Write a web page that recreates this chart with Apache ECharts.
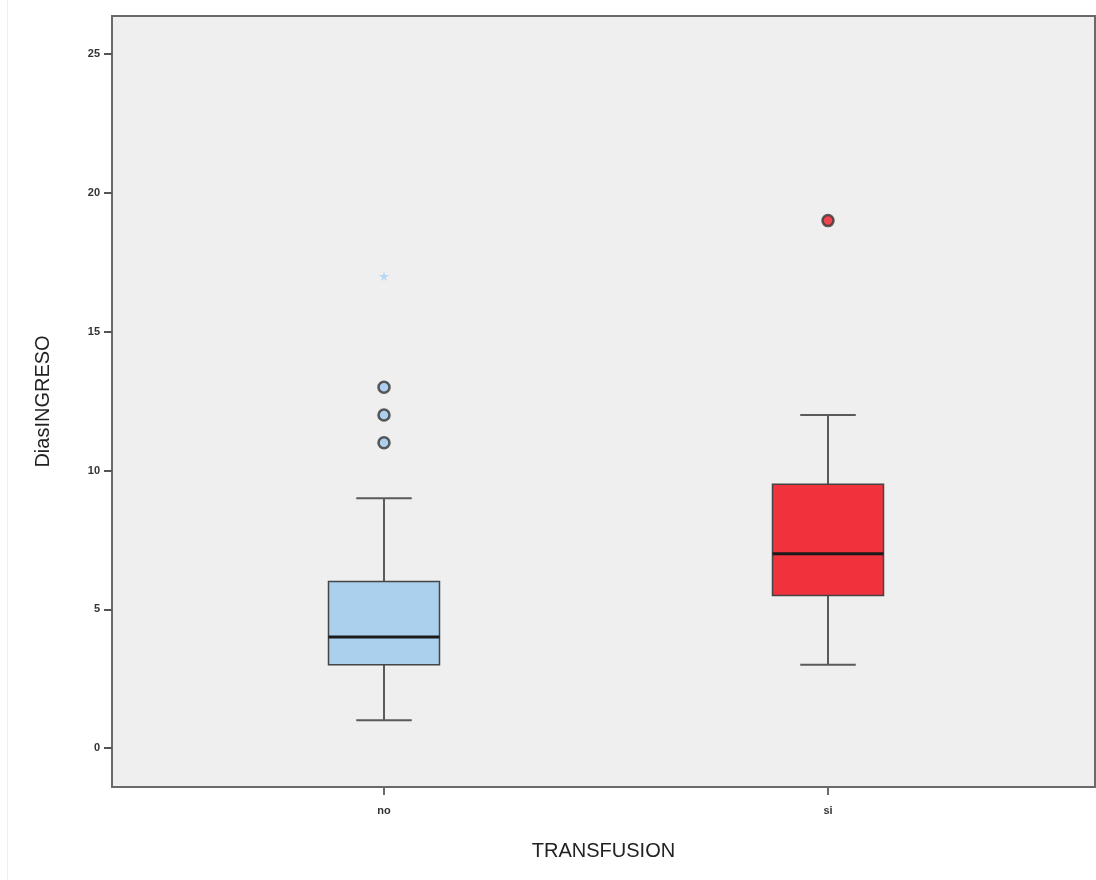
<!DOCTYPE html>
<html>
<head>
<meta charset="utf-8">
<script src="https://cdn.jsdelivr.net/npm/echarts@6/dist/echarts.min.js"></script>
<style>html,body{margin:0;padding:0;background:#fff;}#c{width:1096px;height:880px;}</style>
</head>
<body>
<div id="c"></div>
<script>
// ---- data ----
var categories = ['no', 'si'];
// [min, Q1, median, Q3, max]
var boxNo = [1, 3, 4, 6, 9];
var boxSi = [3, 5.5, 7, 9.5, 12];
var outliersNo = [11, 12, 13];
var extremesNo = [17];
var outliersSi = [19];
var yTicks = [0, 5, 10, 15, 20, 25];
var yName = 'DiasINGRESO';
var xName = 'TRANSFUSION';

var boxColors = ['#abd0ee', '#ef323b'];

var chart = echarts.init(document.getElementById('c'), null, {renderer: 'canvas'});

var boxData = [[0].concat(boxNo), [1].concat(boxSi)];

function renderBox(params, api) {
  var x = api.value(0);
  var vmin = api.value(1), q1 = api.value(2), med = api.value(3), q3 = api.value(4), vmax = api.value(5);
  var band = api.size([1, 0])[0];
  var bw = band * 0.25;
  var pMin = api.coord([x, vmin]);
  var pQ1 = api.coord([x, q1]);
  var pMed = api.coord([x, med]);
  var pQ3 = api.coord([x, q3]);
  var pMax = api.coord([x, vmax]);
  var cx = pMed[0];
  var capHalf = bw / 4;
  var lineStyle = {stroke: '#5a5a5a', lineWidth: 2};
  return {
    type: 'group',
    children: [
      {type: 'line', shape: {x1: cx, y1: pMax[1], x2: cx, y2: pQ3[1]}, style: lineStyle},
      {type: 'line', shape: {x1: cx, y1: pQ1[1], x2: cx, y2: pMin[1]}, style: lineStyle},
      {type: 'line', shape: {x1: cx - capHalf, y1: pMax[1], x2: cx + capHalf, y2: pMax[1]}, style: lineStyle},
      {type: 'line', shape: {x1: cx - capHalf, y1: pMin[1], x2: cx + capHalf, y2: pMin[1]}, style: lineStyle},
      {type: 'rect', shape: {x: cx - bw / 2, y: pQ3[1], width: bw, height: pQ1[1] - pQ3[1]},
        style: {fill: boxColors[params.dataIndex], stroke: '#444', lineWidth: 1.5}},
      {type: 'line', shape: {x1: cx - bw / 2, y1: pMed[1], x2: cx + bw / 2, y2: pMed[1]},
        style: {stroke: '#1a1a1a', lineWidth: 3}}
    ]
  };
}

var yMin = -1.4, yMax = 26.37;

var option = {
  animation: false,
  backgroundColor: '#ffffff',
  textStyle: {fontFamily: 'Liberation Sans, Arial, sans-serif'},
  graphic: [
    {type: 'line', shape: {x1: 7.5, y1: 0, x2: 7.5, y2: 880}, style: {stroke: '#eeeeee', lineWidth: 1}}
  ],
  grid: [
    {left: 112, right: 1, top: 16, bottom: 93, show: true, backgroundColor: '#efefef',
      borderColor: '#6a6a6a', borderWidth: 2},
    {left: 162, width: 888, top: 16, bottom: 93, show: false}
  ],
  xAxis: [
    {gridIndex: 0, type: 'value', min: 0, max: 1,
      axisLine: {show: false, onZero: false}, axisTick: {show: false}, axisLabel: {show: false}, splitLine: {show: false},
      name: xName, nameLocation: 'middle', nameGap: 54,
      nameTextStyle: {fontSize: 20, color: '#222', fontFamily: 'Liberation Sans, Arial, sans-serif'}},
    {gridIndex: 1, type: 'category', data: categories, boundaryGap: true, position: 'bottom',
      axisLine: {show: false, onZero: false},
      axisTick: {show: true, alignWithLabel: true, length: 8, lineStyle: {color: '#6a6a6a', width: 2}},
      axisLabel: {margin: 18, fontSize: 11, fontWeight: 'bold', color: '#333'},
      splitLine: {show: false}}
  ],
  yAxis: [
    {gridIndex: 0, type: 'value', min: yMin, max: yMax,
      axisLine: {show: false, onZero: false},
      axisTick: {show: true, length: 8, customValues: yTicks, lineStyle: {color: '#555', width: 2}},
      axisLabel: {customValues: yTicks, margin: 12, fontSize: 11, fontWeight: 'bold', color: '#333'},
      splitLine: {show: false},
      name: yName, nameLocation: 'middle', nameGap: 59, nameRotate: 90,
      nameTextStyle: {fontSize: 20, color: '#222', fontFamily: 'Liberation Sans, Arial, sans-serif'}},
    {gridIndex: 1, type: 'value', min: yMin, max: yMax, show: false}
  ],
  series: [
    {type: 'custom', xAxisIndex: 1, yAxisIndex: 1, data: boxData, renderItem: renderBox,
      encode: {x: 0, y: [1, 2, 3, 4, 5]}},
    {type: 'scatter', xAxisIndex: 1, yAxisIndex: 1, symbol: 'circle', symbolSize: 11,
      data: outliersNo.map(function (v) { return [0, v]; }),
      itemStyle: {color: '#9ec8ec', borderColor: '#333', borderWidth: 2.5}},
    {type: 'scatter', xAxisIndex: 1, yAxisIndex: 1,
      symbol: 'path://M50,0 L61,35 L98,35 L68,57 L79,91 L50,70 L21,91 L32,57 L2,35 L39,35Z',
      symbolSize: 10,
      data: extremesNo.map(function (v) { return [0, v]; }),
      itemStyle: {color: '#a9d2f5'}},
    {type: 'scatter', xAxisIndex: 1, yAxisIndex: 1, symbol: 'circle', symbolSize: 11,
      data: outliersSi.map(function (v) { return [1, v]; }),
      itemStyle: {color: '#ee1c25', borderColor: '#3a3a3a', borderWidth: 2.5}}
  ]
};
chart.setOption(option);
</script>
</body>
</html>
